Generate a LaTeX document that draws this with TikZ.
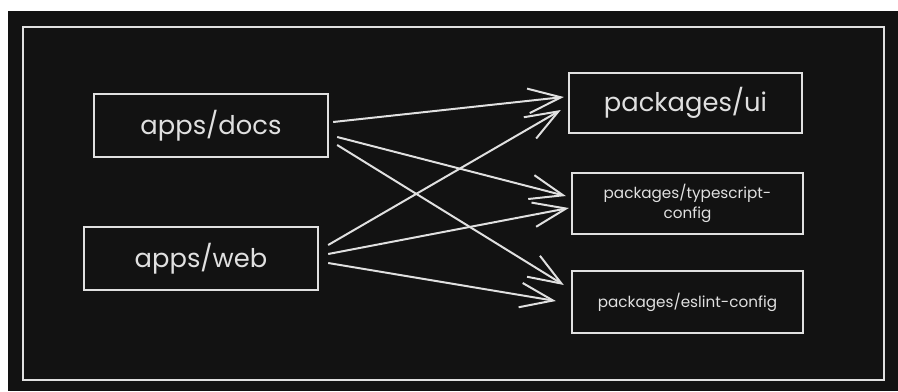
\documentclass[tikz,border=0pt]{standalone}
\usepackage{fontspec}
\setmainfont{Poppins}
\usetikzlibrary{arrows.meta}
\definecolor{bgdark}{HTML}{121212}
\definecolor{chalk}{HTML}{E0E0E0}
\begin{document}
\begin{tikzpicture}[x=0.03cm,y=-0.03cm,
  pkg/.style={draw=chalk,line width=2pt,text=chalk,align=center,inner sep=0pt},
  big/.style={font=\fontsize{22}{26}\selectfont},
  small/.style={font=\fontsize{13}{17}\selectfont},
  dep/.style={draw=chalk,line width=1.7pt,-{Straight Barb[length=28pt,width=21pt,line width=1.7pt]}}]
\useasboundingbox (0,0) rectangle (898,391);
\fill[white] (0,0) rectangle (898,391);
\fill[bgdark] (8,11) rectangle (898,391);
\draw[chalk,line width=2pt] (23,27) rectangle (884,380);
\node[pkg,big,minimum width=7.02cm,minimum height=1.89cm] (docs) at (211,125.5) {apps/docs};
\node[pkg,big,minimum width=7.02cm,minimum height=1.89cm] (web) at (201,258.5) {apps/web};
\node[pkg,big,minimum width=6.99cm,minimum height=1.8cm] (ui) at (685.5,103) {packages/ui};
\node[pkg,small,minimum width=6.93cm,minimum height=1.83cm] (ts) at (687.5,203.5) {packages/typescript-\\config};
\node[pkg,small,minimum width=6.93cm,minimum height=1.86cm] (eslint) at (687.5,302) {packages/eslint-config};
\draw[dep] ([shift={(4,-3.5)}]docs.east) -- ([shift={(-4,-6)}]ui.west);
\draw[dep] ([shift={(8,11.5)}]docs.east) -- ([shift={(-5,-7.5)}]ts.west);
\draw[dep] ([shift={(8,19.5)}]docs.east) -- ([shift={(-7,-17)}]eslint.west);
\draw[dep] ([shift={(9,-13.5)}]web.east) -- ([shift={(-7,7)}]ui.west);
\draw[dep] ([shift={(9,-4.5)}]web.east) -- ([shift={(-2,4.5)}]ts.west);
\draw[dep] ([shift={(9,4.5)}]web.east) -- ([shift={(-15,-1)}]eslint.west);
\end{tikzpicture}
\end{document}
